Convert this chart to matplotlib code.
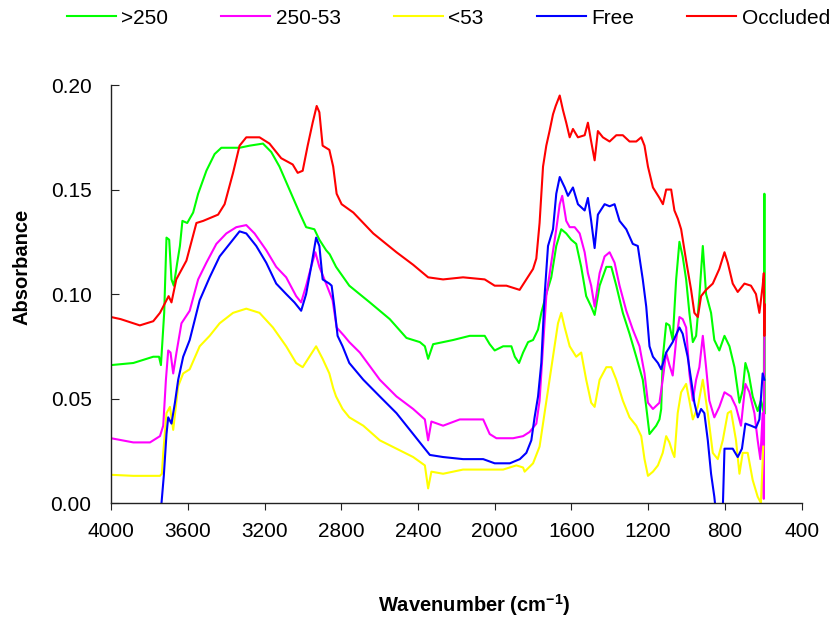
import matplotlib
matplotlib.use("Agg")
import matplotlib.pyplot as plt

plt.rcParams['font.family'] = ['Liberation Sans', 'DejaVu Sans']
plt.rcParams['mathtext.fontset'] = 'custom'
plt.rcParams['mathtext.rm'] = 'Liberation Sans:bold'
plt.rcParams['mathtext.bf'] = 'Liberation Sans:bold'
plt.rcParams['mathtext.default'] = 'bf'

# ---- data (wavenumber, absorbance) ----
wn_gt250 = [4000, 3884, 3780, 3750, 3740, 3723, 3711, 3697, 3685, 3673, 3655, 3641, 3628, 3603,
            3572, 3546, 3503, 3460, 3425, 3330, 3278, 3208, 3165, 3122, 3070, 3018, 2983, 2940,
            2914, 2879, 2860, 2827, 2758, 2651, 2547, 2460, 2390, 2364, 2347, 2321, 2217, 2130,
            2052, 2026, 2000, 1956, 1913, 1895, 1873, 1852, 1826, 1800, 1774, 1757, 1731, 1705,
            1679, 1653, 1627, 1601, 1575, 1549, 1523, 1497, 1479, 1453, 1418, 1392, 1366, 1332,
            1297, 1262, 1228, 1210, 1193, 1158, 1141, 1132, 1124, 1106, 1089, 1072, 1054, 1037,
            1020, 1002, 985, 967, 950, 933, 915, 898, 872, 855, 829, 802, 776, 750, 724, 707,
            693, 676, 655, 629, 612, 597, 594, 592]
ab_gt250 = [0.066, 0.067, 0.070, 0.070, 0.066, 0.091, 0.127, 0.126, 0.107, 0.104, 0.115, 0.123,
            0.135, 0.134, 0.139, 0.148, 0.159, 0.167, 0.170, 0.170, 0.171, 0.172, 0.168, 0.161,
            0.150, 0.139, 0.132, 0.131, 0.126, 0.121, 0.119, 0.113, 0.104, 0.096, 0.088, 0.079,
            0.077, 0.075, 0.069, 0.076, 0.078, 0.080, 0.080, 0.076, 0.073, 0.075, 0.075, 0.070,
            0.067, 0.072, 0.077, 0.078, 0.083, 0.091, 0.100, 0.108, 0.123, 0.131, 0.129, 0.126,
            0.124, 0.113, 0.099, 0.094, 0.090, 0.104, 0.113, 0.113, 0.104, 0.091, 0.081, 0.070,
            0.059, 0.046, 0.033, 0.037, 0.040, 0.045, 0.069, 0.086, 0.085, 0.078, 0.107, 0.125,
            0.118, 0.107, 0.091, 0.077, 0.080, 0.099, 0.123, 0.100, 0.091, 0.078, 0.073, 0.080,
            0.075, 0.065, 0.048, 0.054, 0.067, 0.062, 0.051, 0.044, 0.049, 0.043, 0.148, 0.043]

wn_250_53 = [4000, 3884, 3797, 3745, 3728, 3714, 3702, 3690, 3676, 3659, 3633, 3590, 3546, 3503,
             3451, 3399, 3347, 3295, 3252, 3191, 3139, 3087, 3035, 3009, 2983, 2957, 2935, 2914,
             2879, 2845, 2824, 2785, 2758, 2703, 2599, 2512, 2425, 2364, 2347, 2330, 2269, 2182,
             2060, 2026, 1991, 1904, 1852, 1818, 1783, 1766, 1748, 1731, 1705, 1679, 1661, 1648,
             1627, 1609, 1583, 1557, 1531, 1514, 1497, 1479, 1453, 1427, 1401, 1375, 1349, 1314,
             1280, 1245, 1219, 1201, 1175, 1141, 1124, 1106, 1089, 1072, 1054, 1037, 1020, 1002,
             985, 967, 950, 933, 915, 898, 881, 855, 829, 802, 768, 742, 716, 693, 672, 646,
             629, 615, 603, 600, 597, 594]
ab_250_53 = [0.031, 0.029, 0.029, 0.032, 0.037, 0.059, 0.073, 0.072, 0.062, 0.072, 0.086, 0.092,
             0.107, 0.115, 0.124, 0.129, 0.132, 0.133, 0.129, 0.121, 0.113, 0.108, 0.099, 0.096,
             0.104, 0.113, 0.120, 0.113, 0.105, 0.097, 0.084, 0.080, 0.077, 0.072, 0.059, 0.051,
             0.045, 0.040, 0.030, 0.039, 0.037, 0.040, 0.040, 0.033, 0.031, 0.031, 0.032, 0.034,
             0.038, 0.049, 0.075, 0.099, 0.115, 0.131, 0.143, 0.147, 0.135, 0.132, 0.132, 0.129,
             0.120, 0.110, 0.104, 0.094, 0.110, 0.118, 0.120, 0.115, 0.104, 0.092, 0.083, 0.075,
             0.062, 0.048, 0.045, 0.048, 0.059, 0.072, 0.066, 0.061, 0.078, 0.089, 0.088, 0.084,
             0.062, 0.049, 0.059, 0.065, 0.080, 0.065, 0.049, 0.041, 0.046, 0.053, 0.051, 0.046,
             0.037, 0.057, 0.053, 0.043, 0.030, 0.021, 0.043, 0.010, 0.002, 0.080]

wn_lt53 = [4000, 3884, 3745, 3735, 3728, 3711, 3693, 3676, 3650, 3624, 3590, 3538, 3486, 3434,
           3364, 3295, 3226, 3156, 3087, 3035, 3001, 2966, 2931, 2897, 2862, 2842, 2827, 2793,
           2758, 2685, 2599, 2512, 2425, 2364, 2347, 2330, 2269, 2165, 2060, 1956, 1887, 1852,
           1844, 1800, 1766, 1740, 1714, 1688, 1670, 1653, 1635, 1609, 1575, 1549, 1523, 1497,
           1479, 1453, 1418, 1392, 1366, 1332, 1297, 1262, 1236, 1219, 1201, 1175, 1149, 1124,
           1106, 1089, 1072, 1063, 1046, 1028, 1002, 985, 967, 941, 915, 889, 863, 837, 811,
           785, 768, 742, 724, 707, 681, 655, 629, 612, 600]
ab_lt53 = [0.0135, 0.013, 0.013, 0.014, 0.024, 0.043, 0.046, 0.035, 0.056, 0.062, 0.064, 0.075,
           0.080, 0.086, 0.091, 0.093, 0.091, 0.084, 0.075, 0.067, 0.065, 0.070, 0.075, 0.069,
           0.062, 0.055, 0.051, 0.045, 0.041, 0.037, 0.030, 0.026, 0.022, 0.018, 0.007, 0.015,
           0.014, 0.016, 0.016, 0.016, 0.018, 0.017, 0.015, 0.019, 0.027, 0.043, 0.059, 0.075,
           0.086, 0.091, 0.084, 0.075, 0.070, 0.072, 0.059, 0.048, 0.046, 0.059, 0.065, 0.065,
           0.059, 0.049, 0.041, 0.037, 0.032, 0.021, 0.013, 0.015, 0.018, 0.024, 0.032, 0.029,
           0.024, 0.022, 0.043, 0.053, 0.057, 0.049, 0.040, 0.046, 0.059, 0.043, 0.024, 0.021,
           0.030, 0.043, 0.044, 0.030, 0.014, 0.024, 0.024, 0.011, 0.003, 0.000, 0.027]

wn_free = [3745, 3737, 3725, 3711, 3702, 3685, 3667, 3650, 3624, 3590, 3538, 3486, 3434, 3382,
           3330, 3295, 3243, 3191, 3139, 3087, 3044, 3009, 2983, 2957, 2931, 2914, 2897, 2862,
           2850, 2836, 2819, 2793, 2758, 2685, 2599, 2512, 2425, 2373, 2338, 2269, 2165, 2060,
           2000, 1921, 1869, 1835, 1809, 1792, 1774, 1757, 1740, 1722, 1696, 1679, 1661, 1635,
           1618, 1592, 1566, 1531, 1514, 1497, 1479, 1462, 1427, 1401, 1375, 1349, 1314, 1280,
           1254, 1228, 1210, 1193, 1175, 1149, 1132, 1106, 1072, 1037, 1020, 994, 976, 959, 941,
           924, 907, 889, 872, 855, 846, 820, 810, 802, 785, 759, 733, 711, 693, 664, 638, 620,
           603, 594]
ab_free = [-0.005, 0.000, 0.013, 0.033, 0.041, 0.038, 0.048, 0.059, 0.070, 0.078, 0.097, 0.108,
           0.118, 0.124, 0.130, 0.129, 0.123, 0.115, 0.105, 0.100, 0.096, 0.092, 0.100, 0.113,
           0.127, 0.123, 0.107, 0.105, 0.104, 0.094, 0.080, 0.075, 0.067, 0.059, 0.051, 0.043,
           0.033, 0.027, 0.023, 0.022, 0.021, 0.021, 0.019, 0.019, 0.021, 0.024, 0.030, 0.041,
           0.051, 0.067, 0.099, 0.123, 0.131, 0.148, 0.156, 0.151, 0.147, 0.151, 0.143, 0.140,
           0.146, 0.135, 0.122, 0.138, 0.143, 0.142, 0.143, 0.135, 0.131, 0.124, 0.123, 0.107,
           0.094, 0.075, 0.070, 0.067, 0.064, 0.072, 0.077, 0.084, 0.081, 0.070, 0.059, 0.048,
           0.041, 0.045, 0.043, 0.030, 0.014, 0.003, -0.005, -0.005, 0.000, 0.026, 0.026, 0.026,
           0.022, 0.026, 0.038, 0.037, 0.036, 0.040, 0.062, 0.059]

wn_occl = [4000, 3950, 3850, 3780, 3745, 3700, 3685, 3660, 3607, 3555, 3520, 3442, 3408, 3364,
           3330, 3295, 3226, 3174, 3113, 3053, 3027, 3001, 2975, 2949, 2928, 2914, 2897, 2862,
           2842, 2824, 2798, 2737, 2633, 2512, 2425, 2347, 2269, 2165, 2052, 2000, 1939, 1870,
           1835, 1800, 1783, 1766, 1748, 1731, 1714, 1696, 1682, 1661, 1644, 1627, 1609, 1592,
           1566, 1531, 1514, 1497, 1479, 1462, 1436, 1401, 1366, 1332, 1297, 1262, 1236, 1219,
           1201, 1175, 1141, 1123, 1106, 1080, 1063, 1045, 1028, 1002, 976, 959, 941, 924, 898,
           863, 829, 802, 785, 759, 733, 698, 664, 638, 620, 603, 597, 594, 592]
ab_occl = [0.089, 0.088, 0.085, 0.087, 0.091, 0.099, 0.096, 0.107, 0.116, 0.134, 0.135, 0.138,
           0.143, 0.158, 0.171, 0.175, 0.175, 0.172, 0.165, 0.162, 0.158, 0.159, 0.171, 0.182,
           0.190, 0.187, 0.171, 0.169, 0.161, 0.148, 0.143, 0.139, 0.129, 0.120, 0.114, 0.108,
           0.107, 0.108, 0.107, 0.104, 0.104, 0.102, 0.107, 0.112, 0.117, 0.134, 0.161, 0.171,
           0.178, 0.186, 0.190, 0.195, 0.188, 0.182, 0.175, 0.179, 0.175, 0.176, 0.182, 0.173,
           0.164, 0.178, 0.175, 0.173, 0.176, 0.176, 0.173, 0.173, 0.175, 0.171, 0.161, 0.151,
           0.146, 0.143, 0.150, 0.150, 0.140, 0.136, 0.131, 0.116, 0.102, 0.091, 0.089, 0.099,
           0.102, 0.105, 0.112, 0.120, 0.115, 0.105, 0.101, 0.105, 0.104, 0.100, 0.091, 0.104,
           0.110, 0.080, 0.095]

series = [(">250", wn_gt250, ab_gt250, "#00FF00"),
          ("250-53", wn_250_53, ab_250_53, "#FF00FF"),
          ("<53", wn_lt53, ab_lt53, "#FFFF00"),
          ("Free", wn_free, ab_free, "#0000FF"),
          ("Occluded", wn_occl, ab_occl, "#FF0000")]

fig = plt.figure(figsize=(8.35, 6.21), dpi=100)
ax = fig.add_axes([0.133, 0.190, 0.827, 0.673])

for name, x, y, col in series:
    ax.plot(x, y, color=col, lw=1.5, label=name)

ax.set_xlim(4000, 400)
ax.set_ylim(0, 0.20)
ax.set_xticks(range(4000, 399, -400))
ax.set_yticks([0, 0.05, 0.10, 0.15, 0.20])
ax.set_yticklabels(["0.00", "0.05", "0.10", "0.15", "0.20"])
ax.spines['top'].set_visible(False)
ax.spines['right'].set_visible(False)
for s in ['left', 'bottom']:
    ax.spines[s].set_color('#222222')
    ax.spines[s].set_linewidth(1.0)
ax.tick_params(axis='x', direction='out', length=5, labelsize=15, pad=9, color='#222222')
ax.tick_params(axis='y', direction='in', length=6, labelsize=15, pad=14, color='#222222')

fig.text(22 / 835, 1 - 267 / 621, "Absorbance", rotation=90, fontsize=14.5,
         fontweight='bold', ha='center', va='center')
fig.text(474 / 835, 1 - 605 / 621, r"Wavenumber (cm$^{-1}$)", fontsize=14.5,
         fontweight='bold', ha='center', va='center')

fig.legend(loc='center', bbox_to_anchor=(0.537, 0.971), ncol=5, frameon=False,
           fontsize=15, handlelength=2.35, handletextpad=0.26, columnspacing=2.55,
           borderpad=0, borderaxespad=0)

fig.savefig("out.png", dpi=100)
